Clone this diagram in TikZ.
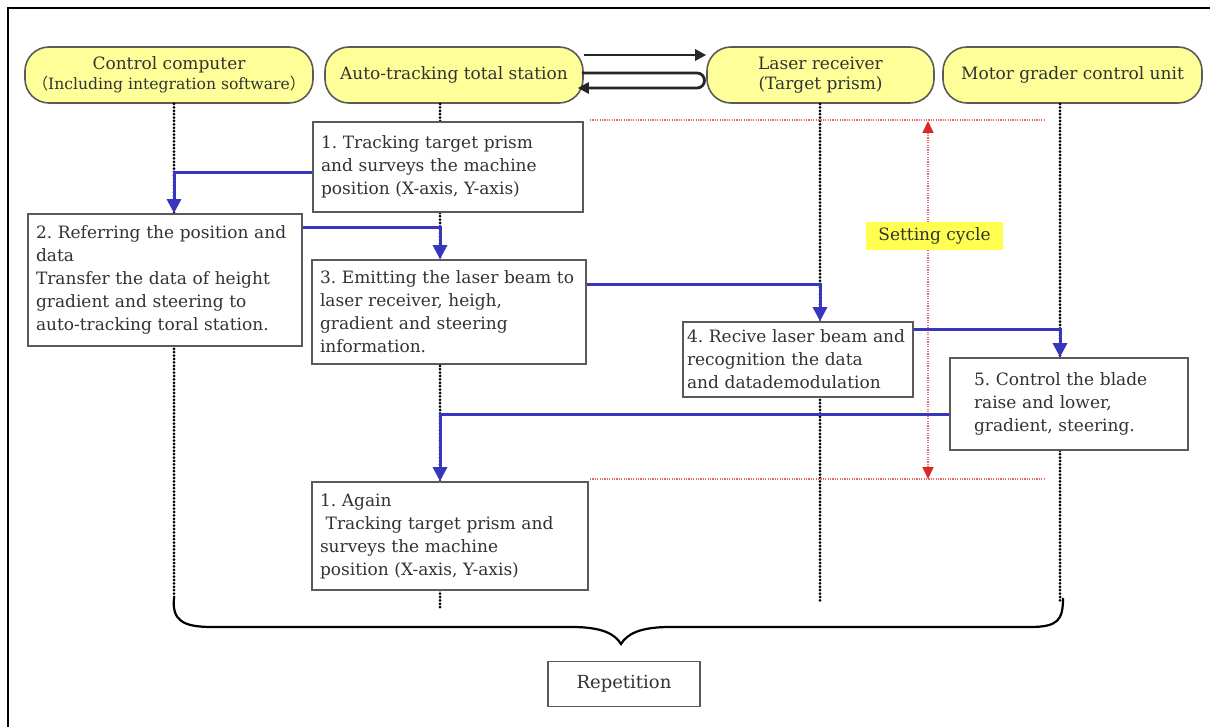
\documentclass[tikz,border=0pt]{standalone}
\usepackage{fontspec}
\setmainfont{DejaVu Serif}
\newfontfamily\cjkfont{Noto Sans CJK JP}
\usetikzlibrary{arrows.meta,calc}
\definecolor{hdrfill}{RGB}{255,255,153}
\definecolor{flowblue}{RGB}{55,55,190}
\definecolor{txtgray}{RGB}{50,50,50}
\definecolor{boxline}{RGB}{90,90,90}
\definecolor{cyclered}{RGB}{220,40,40}
\definecolor{cyclelabel}{RGB}{255,255,80}
\frenchspacing
\begin{document}
\begin{tikzpicture}[x=0.5pt,y=-0.5pt,
  hdr/.style={draw=boxline,fill=hdrfill,line width=0.8pt,rounded corners=12pt,
    align=center,inner sep=0pt,text=txtgray,font=\fontsize{8.5}{11}\selectfont},
  stepbox/.style={draw=boxline,fill=white,line width=0.8pt,align=left,
    inner xsep=4pt,inner ysep=2pt,text=txtgray,font=\fontsize{8.5}{11.5}\selectfont},
  life/.style={black,line width=1.5pt,line cap=round,dash pattern=on 0pt off 1.7pt},
  flow/.style={flowblue,line width=1.5pt,-{Triangle[width=7pt,length=7pt]}},
  link/.style={black!85,line width=1.4pt},
  redline/.style={cyclered!70,line width=1.1pt,dash pattern=on 0.6pt off 0.6pt},
]
\useasboundingbox (0,0) rectangle (1210,727);
\fill[white] (0,0) rectangle (1210,727);
% frame
\draw[line width=1.3pt] (8,727) -- (8,8) -- (1210,8);

% headers
\node[hdr,minimum width=144pt,minimum height=28pt] (cc) at (169,75)
  {Control computer\\[-1pt]{\fontsize{7.8}{9}\selectfont{\cjkfont （}Including integration software{\cjkfont ）}}};
\node[hdr,minimum width=129pt,minimum height=28pt] (ats) at (454,75) {Auto-tracking total station};
\node[hdr,minimum width=113.5pt,minimum height=28pt] (lr) at (820.5,75) {Laser receiver\\[-1pt](Target prism)};
\node[hdr,minimum width=129.5pt,minimum height=28pt] (mg) at (1072.5,75) {Motor grader control unit};

% lifeline coordinates
\coordinate (ll1) at (174,104);
\coordinate (ll2) at (440,104);
\coordinate (ll3) at (820,104);
\coordinate (ll4) at (1060,104);
\coordinate (le1) at (174,598);
\coordinate (le2) at (440,608);
\coordinate (le3) at (820,602);
\coordinate (le4) at (1060,602);
\draw[life] (ll1) -- (le1);
\draw[life] (ll2) -- (le2);
\draw[life] (ll3) -- (le3);
\draw[life] (ll4) -- (le4);

% links between total station and receiver
\draw[link,-{Triangle[width=5.5pt,length=5.5pt]}] ([yshift=10pt]ats.east) -- ([yshift=10pt]lr.west);
\coordinate (turn) at (697,73);
\draw[link,-{Triangle[width=5.5pt,length=5.5pt]}] ([xshift=-1pt,yshift=1pt]ats.east) -- (turn)
  arc[start angle=90,end angle=-90,radius=3.75pt] -- ([xshift=-3pt,yshift=-6.5pt]ats.east);

% red setting cycle
\coordinate (rt1) at (590,120);
\coordinate (rt2) at (1045,120);
\coordinate (rb1) at (590,479);
\coordinate (rb2) at (1045,479);
\coordinate (ctop) at (928,121);
\coordinate (cbot) at (928,479);
\draw[redline] (rt1) -- (rt2);
\draw[redline] (rb1) -- (rb2);
\draw[redline,line width=0.8pt,{Triangle[width=5.5pt,length=6pt,color=cyclered,fill=cyclered]}-{Triangle[width=5.5pt,length=6pt,color=cyclered,fill=cyclered]}] (ctop) -- (cbot);
\node[fill=cyclelabel,text=txtgray,font=\fontsize{8.5}{10}\selectfont,
  minimum width=68.5pt,minimum height=14pt,inner sep=0pt] (sc) at (934.5,236) {Setting cycle};

% step boxes
\node[stepbox,text width=127pt,minimum height=45pt] (b1) at (448,167)
  {1. Tracking target prism\\and surveys the machine\\position (X-axis, Y-axis)};
\node[stepbox,text width=129pt,minimum height=66pt] (b2) at (165,280)
  {2. Referring the position and\\data\\Transfer the data of height\\gradient and steering to\\auto-tracking toral station.};
\node[stepbox,text width=129pt,minimum height=52pt] (b3) at (449,312)
  {3. Emitting the laser beam to\\laser receiver, heigh,\\gradient and steering\\information.};
\node[stepbox,inner xsep=2pt,text width=111pt,minimum height=37.5pt] (b4) at (798,359.5)
  {4. Recive laser beam and\\recognition the data\\and datademodulation};
\node[stepbox,inner xsep=12pt,text width=95pt,minimum height=46pt] (b5) at (1069,404)
  {5. Control the blade\\raise and lower,\\gradient, steering.};
\node[stepbox,text width=130pt,minimum height=54pt] (b6) at (450,536)
  {1. Again\\\ Tracking target prism and\\surveys the machine\\position (X-axis, Y-axis)};

% flow arrows
\draw[flow] ([yshift=-3pt]b1.west) -| (b2.north -| ll1);
\draw[flow] ([yshift=-7pt]b2.north east) -| (b3.north -| ll2);
\draw[flow] ([yshift=-12.5pt]b3.north east) -| (b4.north -| ll3);
\draw[flow] ([yshift=-4pt]b4.north east) -| (b5.north -| ll4);
\draw[flow] ([yshift=-5pt]b5.west) -| (b6.north -| ll2);

% brace
\draw[black,line width=1.1pt] (le1) .. controls (172,620) and (182,627) .. (212,627)
  -- (572,627) .. controls (602,627) and (615,634) .. (621,644)
  .. controls (627,634) and (640,627) .. (670,627) -- (1030,627)
  .. controls (1058,627) and (1063,620) .. (1063,598);

% repetition
\node[draw=boxline,line width=0.8pt,fill=white,text=txtgray,font=\fontsize{9}{11}\selectfont,
  minimum width=76pt,minimum height=22.5pt,inner sep=0pt] (rep) at (624,684) {Repetition};
\end{tikzpicture}
\end{document}
